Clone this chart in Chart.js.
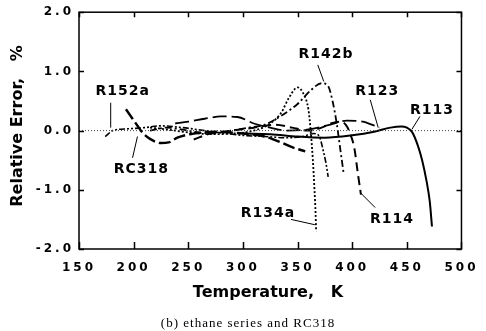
<!DOCTYPE html>
<html>
<head>
<meta charset="utf-8">
<script src="https://cdn.jsdelivr.net/npm/chart.js@4/dist/chart.umd.min.js"></script>
<style>
  html, body { margin: 0; padding: 0; background: #fff; }
  #wrap { width: 486px; height: 331px; position: relative; }
</style>
</head>
<body>
<div id="wrap"><canvas id="c"></canvas></div>
<script>
// Relative error of the fitted equation vs temperature, ethane series + RC318.
// Values.

const xTicks = [150, 200, 250, 300, 350, 400, 450, 500];
const yTicks = [-2, -1, 0, 1, 2];

const r113T = [300, 325, 350, 375, 400, 420, 435, 445, 450, 455, 460, 464, 468, 471, 473];
const r113E = [-0.05, -0.06, -0.1, -0.12, -0.08, -0.02, 0.05, 0.07, 0.05, -0.03, -0.25, -0.5, -0.85, -1.2, -1.62];

const r134aT = [215, 230, 250, 270, 290, 310, 325, 335, 342, 350, 356, 360, 362, 364, 365.5, 366.5, 367];
const r134aE = [0.05, 0.02, -0.03, -0.06, -0.05, 0.0, 0.12, 0.3, 0.55, 0.73, 0.6, 0.35, 0.0, -0.5, -1.0, -1.4, -1.7];

const r142bT = [215, 230, 250, 270, 290, 305, 320, 335, 350, 362, 372, 378, 382, 386, 389, 392];
const r142bE = [0.0, 0.05, 0.0, -0.05, 0.0, 0.05, 0.1, 0.25, 0.45, 0.68, 0.8, 0.75, 0.5, 0.1, -0.3, -0.7];

const r152aT = [174, 181, 195, 210, 225, 245, 265, 285, 300, 320, 340, 355, 365, 370, 373, 376, 378];
const r152aE = [-0.1, 0.0, 0.03, 0.05, 0.08, 0.05, 0.0, -0.05, -0.08, -0.1, -0.12, -0.1, -0.05, -0.1, -0.3, -0.55, -0.78];

const r123T = [238, 250, 265, 280, 295, 310, 325, 340, 360, 380, 395, 410, 418, 425];
const r123E = [0.12, 0.15, 0.2, 0.24, 0.23, 0.12, 0.05, 0.0, 0.02, 0.1, 0.17, 0.15, 0.1, 0.05];

const r114T = [255, 270, 290, 310, 330, 345, 360, 372, 382, 390, 394, 397, 402, 405, 408];
const r114E = [-0.15, -0.05, 0.0, 0.05, 0.1, 0.05, 0.0, 0.05, 0.13, 0.15, 0.1, 0.0, -0.3, -0.7, -1.08];

const rc318T = [193, 199, 204, 207, 215, 225, 232, 240, 255, 275, 300, 320, 335, 345, 357];
const rc318E = [0.36, 0.2, 0.07, -0.01, -0.14, -0.21, -0.2, -0.12, -0.05, -0.02, -0.05, -0.1, -0.2, -0.28, -0.35];

// dotted reference line at zero error
const zeroT = [150, 500];
const zeroE = [0, 0];

// curve labels: text centre, then leader line from -> to (data coords)
const noteText = ['R152a', 'RC318', 'R142b', 'R123', 'R113', 'R134a', 'R114'];
const noteX = [190, 207, 376, 423, 473, 323, 436.5];
const noteY = [0.66, -0.66, 1.28, 0.66, 0.35, -1.39, -1.5];
const leadX1 = [179, 199, 368.5, 416.5, 462, 344, 421];
const leadY1 = [0.47, -0.46, 1.11, 0.52, 0.24, -1.5, -1.3];
const leadX2 = [179, 203.5, 374, 423.8, 454.6, 365.8, 407.5];
const leadY2 = [0.05, -0.1, 0.83, 0.05, 0.02, -1.59, -1.05];

function pts(xs, ys) {
  return xs.map((x, i) => ({ x: x, y: ys[i] }));
}

function series(label, xs, ys, dash, width) {
  return {
    label: label,
    data: pts(xs, ys),
    borderColor: '#000',
    borderWidth: width,
    borderDash: dash,
    pointRadius: 0,
    fill: false,
    cubicInterpolationMode: 'monotone'
  };
}

const datasets = [
  {
    label: 'zero',
    data: pts(zeroT, zeroE),
    borderColor: '#444',
    borderWidth: 1,
    borderDash: [1, 2],
    pointRadius: 0,
    fill: false
  },
  series('R113', r113T, r113E, [], 2),
  series('R134a', r134aT, r134aE, [2, 2], 1.8),
  series('R142b', r142bT, r142bE, [7, 3, 2, 3], 1.8),
  series('R152a', r152aT, r152aE, [6, 2, 2, 2, 2, 2], 1.6),
  series('R123', r123T, r123E, [14, 5], 1.8),
  series('R114', r114T, r114E, [9, 5], 2),
  series('RC318', rc318T, rc318E, [12, 4], 2.4)
];

const FONT = '"DejaVu Sans", sans-serif';

// frame, inward ticks, titles, curve labels and caption
const decor = {
  id: 'decor',
  beforeDraw(chart) {
    chart.ctx.letterSpacing = '3px'; // spread-out tick numbers
  },
  afterDraw(chart) {
    const ctx = chart.ctx;
    const a = chart.chartArea;
    const xs = chart.scales.x, ys = chart.scales.y;
    ctx.save();
    ctx.letterSpacing = '0px';
    ctx.strokeStyle = '#000';
    ctx.lineWidth = 1.5;
    ctx.setLineDash([]);
    ctx.strokeRect(a.left, a.top, a.right - a.left, a.bottom - a.top);

    ctx.beginPath();
    xTicks.forEach(v => {
      const px = Math.round(xs.getPixelForValue(v)) + 0.5;
      ctx.moveTo(px, a.bottom); ctx.lineTo(px, a.bottom - 7);
      ctx.moveTo(px, a.top); ctx.lineTo(px, a.top + 5);
    });
    yTicks.forEach(v => {
      const py = Math.round(ys.getPixelForValue(v)) + 0.5;
      ctx.moveTo(a.left, py); ctx.lineTo(a.left + 5, py);
      ctx.moveTo(a.right, py); ctx.lineTo(a.right - 5, py);
    });
    ctx.stroke();

    // axis titles
    ctx.fillStyle = '#000';
    ctx.font = 'bold 16px ' + FONT;
    ctx.textAlign = 'center';
    ctx.textBaseline = 'middle';
    ctx.fillText('Temperature,   K', 268, 293);
    ctx.save();
    ctx.translate(18, 126);
    ctx.rotate(-Math.PI / 2);
    ctx.fillText('Relative Error,   %', 0, 0);
    ctx.restore();

    // leader lines + curve labels
    ctx.lineWidth = 1;
    ctx.beginPath();
    noteText.forEach((t, i) => {
      ctx.moveTo(xs.getPixelForValue(leadX1[i]), ys.getPixelForValue(leadY1[i]));
      ctx.lineTo(xs.getPixelForValue(leadX2[i]), ys.getPixelForValue(leadY2[i]));
    });
    ctx.stroke();
    ctx.font = 'bold 14px ' + FONT;
    ctx.letterSpacing = '1px';
    noteText.forEach((t, i) => {
      ctx.fillText(t, xs.getPixelForValue(noteX[i]), ys.getPixelForValue(noteY[i]));
    });

    // caption
    ctx.font = '13px "Liberation Serif", serif';
    ctx.letterSpacing = '1px';
    ctx.fillText('(b) ethane series and RC318', 248, 324);
    ctx.restore();
  }
};

new Chart(document.getElementById('c'), {
  type: 'line',
  data: { datasets: datasets },
  plugins: [decor],
  options: {
    responsive: true,
    maintainAspectRatio: false,
    animation: false,
    layout: { padding: { top: 12, right: 21, bottom: 22, left: 0 } },
    plugins: {
      legend: { display: false },
      tooltip: { enabled: false }
    },
    scales: {
      x: {
        type: 'linear',
        min: 150,
        max: 500,
        afterFit: s => { s.height = 60; },
        afterBuildTicks: s => { s.ticks = xTicks.map(v => ({ value: v })); },
        grid: { display: false, drawTicks: false },
        border: { display: false },
        ticks: {
          padding: 12,
          color: '#000',
          font: { family: FONT, size: 12, weight: 'bold' },
          maxRotation: 0
        }
      },
      y: {
        type: 'linear',
        min: -2,
        max: 2,
        afterFit: s => { s.width = 79; },
        afterBuildTicks: s => { s.ticks = yTicks.map(v => ({ value: v })); },
        grid: { display: false, drawTicks: false },
        border: { display: false },
        ticks: {
          padding: 5,
          color: '#000',
          font: { family: FONT, size: 12, weight: 'bold' },
          callback: v => v.toFixed(1)
        }
      }
    }
  }
});
</script>
</body>
</html>
